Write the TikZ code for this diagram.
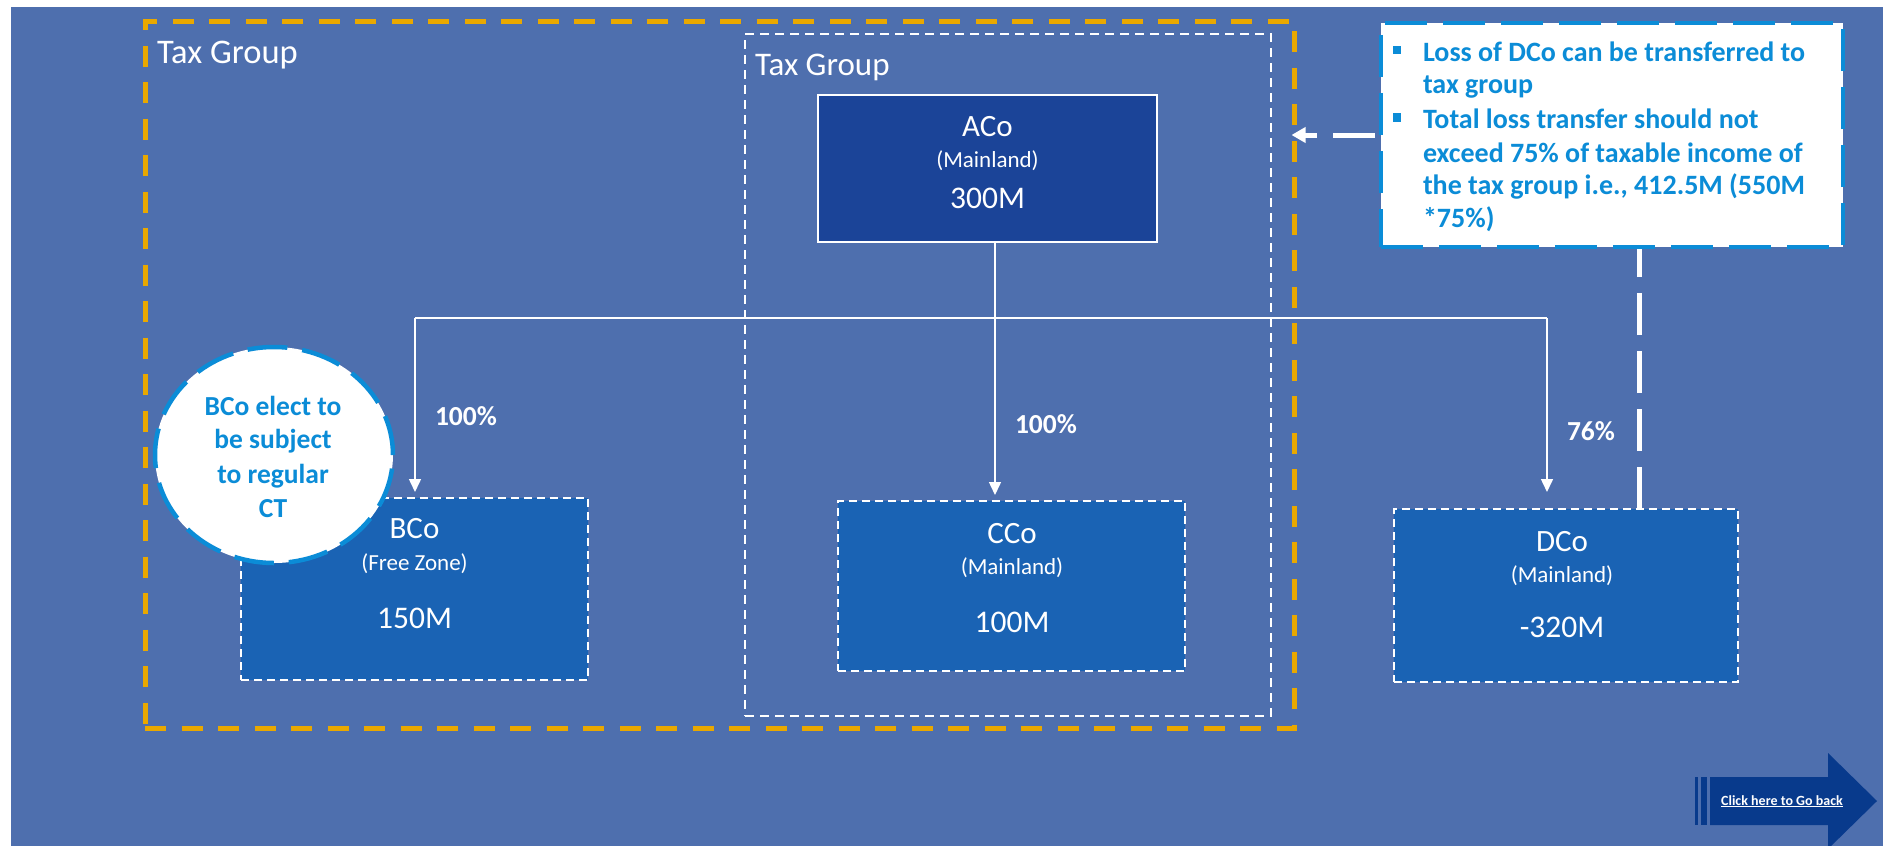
\documentclass[tikz,border=0pt]{standalone}
\usepackage{fontspec}
\setmainfont{Carlito}
\usetikzlibrary{arrows.meta,shapes.geometric}
\definecolor{pagebg}{HTML}{4E6FAE}
\definecolor{groupgold}{HTML}{E9A800}
\definecolor{parentblue}{HTML}{1B4498}
\definecolor{subblue}{HTML}{1A63B4}
\definecolor{notecyan}{HTML}{0B8CD7}
\definecolor{navyarrow}{HTML}{083A8C}
\tikzset{
  every node/.style={inner sep=0pt, outer sep=0pt},
  grouptitle/.style={text=white, anchor=base west, font=\fontsize{34.5}{41}\selectfont},
  outergroup/.style={draw=groupgold, line width=5pt, dash pattern=on 21pt off 15.5pt},
  innergroup/.style={draw=white, line width=2pt, dash pattern=on 9pt off 6pt},
  parentbox/.style={draw=white, line width=2pt, fill=parentblue},
  subbox/.style={draw=white, line width=2.2pt, dash pattern=on 8pt off 5pt, fill=subblue},
  entname/.style={text=white, anchor=base, font=\fontsize{31}{36}\selectfont},
  entzone/.style={text=white, anchor=base, font=\fontsize{23}{28}\selectfont},
  entvalue/.style={text=white, anchor=base, font=\fontsize{31.5}{36}\selectfont},
  share/.style={text=white, anchor=base west, font=\bfseries\fontsize{27.5}{33}\selectfont},
  tree/.style={draw=white, line width=1.5pt},
  treearrow/.style={tree, -{Triangle[length=13pt,width=12pt]}},
  notetext/.style={text=notecyan, anchor=base west, font=\bfseries\fontsize{28}{33}\selectfont},
  electtext/.style={text=notecyan, anchor=base, font=\bfseries\fontsize{27.5}{33}\selectfont},
  bullet/.style={fill=notecyan, minimum size=8.5pt},
  notelink/.style={draw=white, line width=5pt, dash pattern=on 42pt off 16pt,
    -{Triangle[length=14pt,width=15pt]}},
}
\begin{document}
\begin{tikzpicture}[x=1pt,y=-1pt]
\useasboundingbox (0,0) rectangle (1883,846);
\fill[white] (0,0) rectangle (1883,846);
\fill[pagebg] (11,7) rectangle (1883,846);

% tax groups
\node[outergroup, minimum width=1149pt, minimum height=707pt] (outerTG) at (719.5,374.5) {};
\node[grouptitle] (outerTitle) at (157,63) {Tax Group};
\node[innergroup, minimum width=526pt, minimum height=682pt] (innerTG) at (1008,375) {};
\node[grouptitle, font=\fontsize{33}{39}\selectfont] (innerTitle) at (755,75) {Tax Group};

% entities
\node[parentbox, minimum width=339pt, minimum height=147pt] (ACo) at (987.5,168.5) {};
\node[entname] (ACoName) at (987.5,136) {ACo};
\node[entzone] (ACoZone) at (987.5,167) {(Mainland)};
\node[entvalue] (ACoValue) at (987.5,208) {300M};

\node[subbox, minimum width=347pt, minimum height=182pt] (BCo) at (414.5,589) {};
\node[entname] (BCoName) at (414.5,538) {BCo};
\node[entzone] (BCoZone) at (414.5,570) {(Free Zone)};
\node[entvalue] (BCoValue) at (414.5,628) {150M};

\node[subbox, minimum width=347pt, minimum height=170pt] (CCo) at (1011.5,586) {};
\node[entname] (CCoName) at (1012,543) {CCo};
\node[entzone] (CCoZone) at (1012,574) {(Mainland)};
\node[entvalue] (CCoValue) at (1012,632) {100M};

\node[subbox, minimum width=344pt, minimum height=173pt] (DCo) at (1566,595.5) {};
\node[entname] (DCoName) at (1562,551) {DCo};
\node[entzone] (DCoZone) at (1562,582) {(Mainland)};
\node[entvalue] (DCoValue) at (1562,637) {-320M};

% ownership tree
\coordinate (split) at (995,318);
\coordinate (barL) at (415,318);
\coordinate (barR) at (1547,318);
\draw[tree] (ACo.south -| split) -- (split);
\draw[tree] (barL) -- (barR);
\draw[treearrow, shorten >=6pt] (barL) -- (barL |- BCo.north);
\draw[treearrow, shorten >=6pt] (split) -- (split |- CCo.north);
\draw[treearrow, shorten >=17pt] (barR) -- (barR |- DCo.north);
\node[share] (pB) at (435,425) {100\%};
\node[share] (pC) at (1015,433) {100\%};
\node[share] (pD) at (1567,440) {76\%};

% loss transfer link
\coordinate (linkx) at (1639,0);
\draw[notelink, shorten >=-2.5pt] (DCo.north -| linkx) |- (outerTG.east |- 0,135);

% note on loss transfer
\node[draw=notecyan, line width=4.5pt, dash pattern=on 42pt off 16pt, fill=white,
      minimum width=462pt, minimum height=224pt] (note) at (1612,135) {};
\node[bullet] (b1) at (1397,50) {};
\node[bullet] (b2) at (1397,117.5) {};
\node[notetext] (n1a) at (1423,61) {Loss of DCo can be transferred to};
\node[notetext] (n1b) at (1423,93) {tax group};
\node[notetext] (n2a) at (1423,128) {Total loss transfer should not};
\node[notetext] (n2b) at (1423,162) {exceed 75\% of taxable income of};
\node[notetext] (n2c) at (1423,194) {the tax group i.e., 412.5M (550M};
\node[notetext] (n2d) at (1423,227) {*75\%)};

% election bubble
\node[draw=notecyan, fill=white, ellipse, line width=4.5pt, dash pattern=on 40pt off 15pt,
      minimum width=238pt, minimum height=216pt] (elect) at (274,455) {};
\node[electtext] (e1) at (273,415) {BCo elect to};
\node[electtext] (e2) at (273,448) {be subject};
\node[electtext] (e3) at (273,483) {to regular};
\node[electtext] (e4) at (273,517) {CT};

% back button
\fill[navyarrow] (1695,777) rectangle (1698,825);
\fill[navyarrow] (1701,777) rectangle (1707,825);
\fill[navyarrow] (1710,777) -- (1828,777) -- (1828,753) -- (1877,801) -- (1828,849)
  -- (1828,825) -- (1710,825) -- cycle;
\node[text=white, anchor=base, font=\bfseries\fontsize{14}{17}\selectfont] (goback)
  at (1782,805) {\underline{Click here to Go back}};
\end{tikzpicture}
\end{document}
